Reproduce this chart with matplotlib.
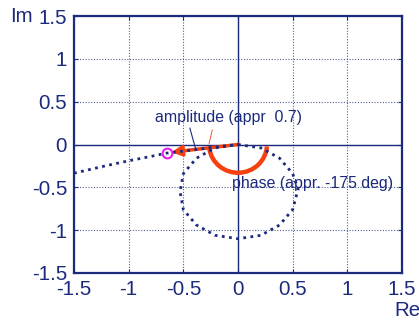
import matplotlib
matplotlib.use("Agg")
import matplotlib.pyplot as plt
from matplotlib.patches import Arc
import numpy as np

plt.rcParams['font.family'] = ['Liberation Sans', 'DejaVu Sans']

navy = '#1c2a7c'
red = '#f5400f'

# Nyquist curve: tail coming in from the left to the origin
tail_re = [-1.5, -1.25, -1.0, -0.8, -0.65, -0.45, -0.25, 0.0]
tail_im = [-0.335, -0.26, -0.19, -0.14, -0.10, -0.07, -0.035, 0.0]

# loop starting and ending at the origin
loop_re = [0.0, 0.21, 0.38, 0.50, 0.55, 0.50, 0.38, 0.21, 0.0,
           -0.21, -0.38, -0.50, -0.53, -0.50, -0.38, -0.21, 0.0]
loop_im = [0.0, -0.04, -0.16, -0.34, -0.52, -0.76, -0.94, -1.06, -1.10,
           -1.06, -0.94, -0.76, -0.55, -0.34, -0.16, -0.04, 0.0]

# point where the curve crosses the unit-ish circle
point_re = -0.65
point_im = -0.095

# phase arc (angles in degrees) and its radii
arc_from = 190
arc_to = 355
arc_w = 0.53
arc_h = 0.66

ticks = [-1.5, -1, -0.5, 0, 0.5, 1, 1.5]
tick_labels = ['-1.5', '-1', '-0.5', '0', '0.5', '1', '1.5']

fig = plt.figure(figsize=(4.19, 3.22), dpi=100)
ax = fig.add_axes([74 / 419, 1 - 273 / 322, 328 / 419, 257 / 322])

ax.set_xlim(-1.5, 1.5)
ax.set_ylim(-1.5, 1.5)
ax.set_xticks(ticks)
ax.set_yticks(ticks)
ax.set_xticklabels(tick_labels)
ax.set_yticklabels(tick_labels)
ax.grid(True, color=navy, linestyle=(0, (1, 1.5)), linewidth=0.8, alpha=0.75)
ax.tick_params(direction='in', length=3, color=navy, labelcolor=navy,
               labelsize=14.8, top=True, right=True, pad=5)
for s in ax.spines.values():
    s.set_color(navy)
    s.set_linewidth(1.6)

ax.axhline(0, color=navy, linewidth=1.0, zorder=1)
ax.axvline(0, color=navy, linewidth=1.0, zorder=1)

# amplitude arrow
ax.annotate('', xy=(point_re + 0.04, point_im + 0.005), xytext=(0, 0),
            arrowprops=dict(arrowstyle='-|>', color=red, lw=2.5,
                            mutation_scale=15, shrinkA=0, shrinkB=0),
            zorder=3)

# phase arc
ax.add_patch(Arc((0, 0), arc_w, arc_h, theta1=arc_from, theta2=arc_to,
                 color=red, linewidth=3.2, zorder=3))
ax.plot([-0.265, -0.235], [0.01, 0.17], color=red, linewidth=0.6, zorder=3)

ax.plot(tail_re, tail_im, color=navy, linestyle=(0, (1, 1.6)), linewidth=2,
        zorder=4)
ax.plot(loop_re, loop_im, color=navy, linestyle=(0, (1, 1.6)), linewidth=2,
        zorder=4)
ax.plot([point_re], [point_im], 'o', mfc='none', mec='#e81ee8', ms=7,
        mew=1.5, zorder=5)

# labels
ax.plot([-0.44, -0.39], [0.19, -0.04], color=navy, linewidth=0.8, zorder=4)
ax.text(-0.76, 0.31, 'amplitude (appr  0.7)', color=navy, fontsize=11.4,
        va='center', ha='left')
ax.text(-0.055, -0.46, 'phase (appr. -175 deg)', color=navy, fontsize=11.4,
        va='center', ha='left', zorder=6)

fig.text(21 / 419, 1 - 17 / 322, 'Im', color=navy, fontsize=14.8,
         ha='center', va='center')
fig.text(407 / 419, 1 - 311 / 322, 'Re', color=navy, fontsize=14.8,
         ha='center', va='center')

fig.savefig('out.png', dpi=100)
